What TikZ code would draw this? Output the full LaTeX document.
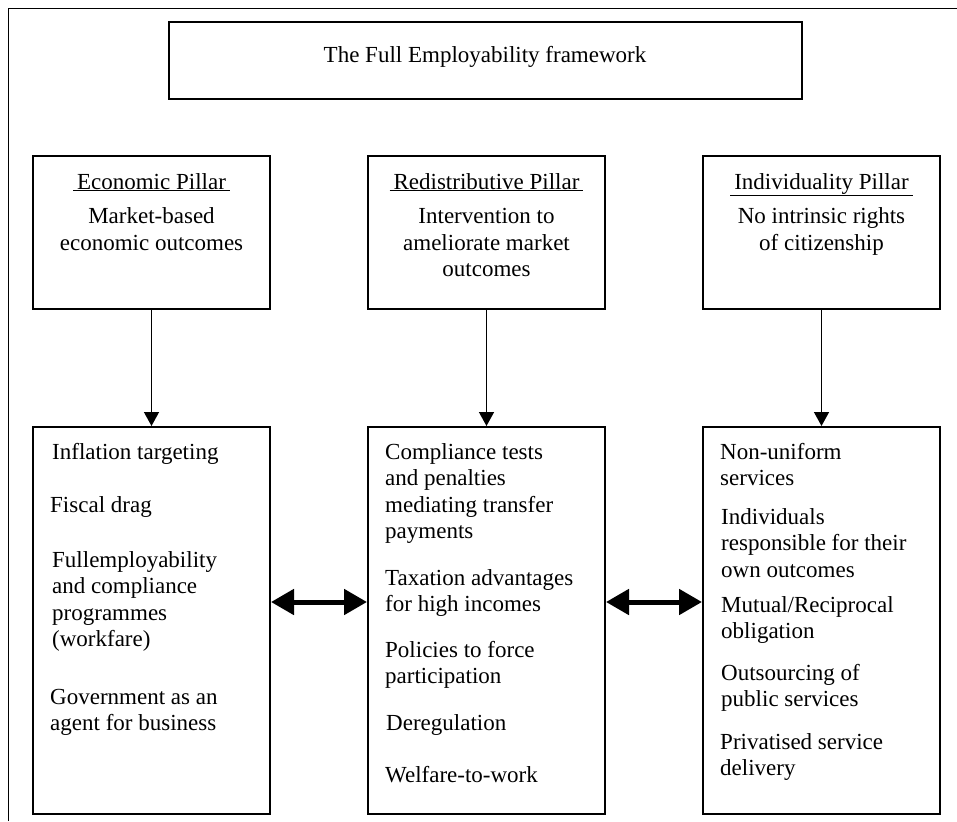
\documentclass[tikz,border=0pt]{standalone}
\usepackage{fontspec}
\setmainfont{Liberation Serif}
\usetikzlibrary{arrows.meta,positioning}

\begin{document}
\begin{tikzpicture}
[x=1pt,y=-1pt,
pbox/.style={draw,line width=2pt,inner sep=0pt},
pillarbox/.style={pbox,minimum width=237pt,minimum height=153pt},
policybox/.style={pbox,minimum width=237pt,minimum height=387pt},
txt/.style={font=\fontsize{23}{26.5}\selectfont,inner sep=0pt},
itemtxt/.style={txt,anchor=base west},
headtxt/.style={txt,anchor=base},
downarrow/.style={line width=1.4pt,-{Triangle[length=14pt,width=15pt]}},
linkarrow/.style={line width=5pt,{Triangle[length=23pt,width=25pt]}-{Triangle[length=23pt,width=25pt]}}]
\useasboundingbox (0,0) rectangle (957,821);
% frame (cut off at right and bottom)
\draw[line width=1pt] (8,821) -- (8,9) -- (957,9);
%% Title
\node[pbox,minimum width=633pt,minimum height=77pt] (title) at (485.5,60.5) {};
\node[headtxt] (titletxt) at (485,63) {The Full Employability framework};
%%%%%%%%%%%%%%%%%%%%%%%%%%%%%
%% Pillars
\node[pillarbox] (eco) at (151.5,232.5) {};
\node[pillarbox] (red) at (486.5,232.5) {};
\node[pillarbox] (ind) at (821.5,232.5) {};
\node[headtxt] (ecotxt) at (151.5,189) {\parbox[t]{230pt}{\centering \underline{\,Economic Pillar\,}\\[8pt]Market-based\\economic outcomes}};
\node[headtxt] (redtxt) at (486.5,189) {\parbox[t]{230pt}{\centering \underline{\,Redistributive Pillar\,}\\[8pt]Intervention to\\ameliorate market\\outcomes}};
\node[headtxt] (indtxt) at (821.5,189) {\parbox[t]{230pt}{\centering \underline{\,Individuality Pillar\,}\\[8pt]No intrinsic rights\\of citizenship}};
%%%%%%%%%%%%%%%%%%%%%%%%%%%%%
%% Policies
\node[policybox] (ecopol) at (151.5,620.5) {};
\node[policybox] (redpol) at (486.5,620.5) {};
\node[policybox] (indpol) at (821.5,620.5) {};
% economic
\node[itemtxt] (e1) at (52,459) {Inflation targeting};
\node[itemtxt] (e2) at (50,512) {Fiscal drag};
\node[itemtxt] (e3) at (52,567) {\parbox[t]{210pt}{Fullemployability\\and compliance\\programmes\\(workfare)}};
\node[itemtxt] (e4) at (50,704) {\parbox[t]{210pt}{Government as an\\agent for business}};
% redistributive
\node[itemtxt] (r1) at (385,459) {\parbox[t]{210pt}{Compliance tests\\and penalties\\mediating transfer\\payments}};
\node[itemtxt] (r2) at (385,585) {\parbox[t]{210pt}{Taxation advantages\\for high incomes}};
\node[itemtxt] (r3) at (385,657) {\parbox[t]{210pt}{Policies to force\\participation}};
\node[itemtxt] (r4) at (386,730) {Deregulation};
\node[itemtxt] (r5) at (385,782) {Welfare-to-work};
% individuality
\node[itemtxt] (i1) at (720,459) {\parbox[t]{210pt}{Non-uniform\\services}};
\node[itemtxt] (i2) at (721,524) {\parbox[t]{210pt}{Individuals\\responsible for their\\own outcomes}};
\node[itemtxt] (i3) at (721,612) {\parbox[t]{210pt}{Mutual/Reciprocal\\obligation}};
\node[itemtxt] (i4) at (721,680) {\parbox[t]{210pt}{Outsourcing of\\public services}};
\node[itemtxt] (i5) at (720,749) {\parbox[t]{210pt}{Privatised service\\delivery}};
%%%%%%%%%%%%%%%%%%%%%%%%%%%%%
%% Arrows
\draw[downarrow] (eco) -- (ecopol);
\draw[downarrow] (red) -- (redpol);
\draw[downarrow] (ind) -- (indpol);
\draw[linkarrow] ([yshift=18.5pt]ecopol.east) -- ([yshift=18.5pt]redpol.west);
\draw[linkarrow] ([yshift=18.5pt]redpol.east) -- ([yshift=18.5pt]indpol.west);
\end{tikzpicture}
\end{document}
